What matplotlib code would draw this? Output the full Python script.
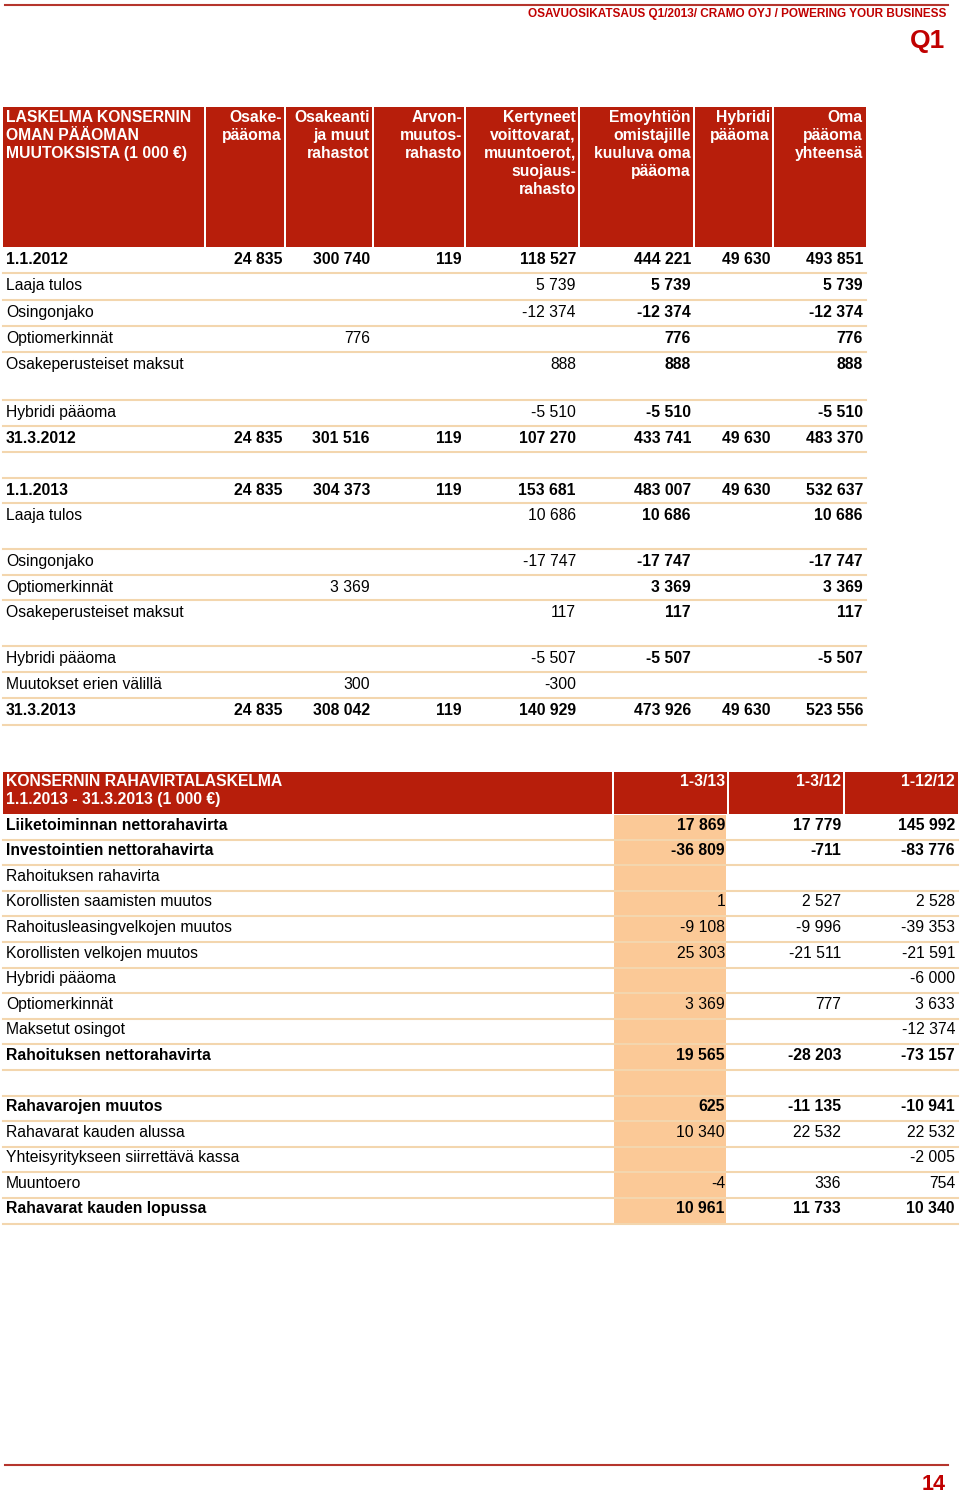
import numpy as np
import matplotlib
matplotlib.use('Agg')
import matplotlib.pyplot as plt
from matplotlib.patches import Rectangle

plt.rcParams['font.family'] = ['Liberation Sans', 'DejaVu Sans']

RED = '#b71e0b'
TAN = '#f3d6ae'
PEACH = '#fbc997'
TITLE_RED = '#c00000'
LINE_RED = '#b5352d'

page_title = 'OSAVUOSIKATSAUS Q1/2013/ CRAMO OYJ / POWERING YOUR BUSINESS'
quarter = 'Q1'
page_no = '14'

# --- equity statement data ---
eq_title = ['LASKELMA KONSERNIN', 'OMAN PÄÄOMAN', 'MUUTOKSISTA (1 000 €)']
eq_columns = [['Osake-', 'pääoma'],
              ['Osakeanti', 'ja muut', 'rahastot'],
              ['Arvon-', 'muutos-', 'rahasto'],
              ['Kertyneet', 'voittovarat,', 'muuntoerot,', 'suojaus-', 'rahasto'],
              ['Emoyhtiön', 'omistajille', 'kuuluva oma', 'pääoma'],
              ['Hybridi', 'pääoma'],
              ['Oma', 'pääoma', 'yhteensä']]
eq_labels = ['1.1.2012', 'Laaja tulos', 'Osingonjako', 'Optiomerkinnät',
             'Osakeperusteiset maksut', 'Hybridi pääoma', '31.3.2012', '',
             '1.1.2013', 'Laaja tulos', 'Osingonjako', 'Optiomerkinnät',
             'Osakeperusteiset maksut', 'Hybridi pääoma', 'Muutokset erien välillä',
             '31.3.2013']
eq_values = [
    [24835, 300740, 119, 118527, 444221, 49630, 493851],
    [None, None, None, 5739, 5739, None, 5739],
    [None, None, None, -12374, -12374, None, -12374],
    [None, 776, None, None, 776, None, 776],
    [None, None, None, 888, 888, None, 888],
    [None, None, None, -5510, -5510, None, -5510],
    [24835, 301516, 119, 107270, 433741, 49630, 483370],
    [None] * 7,
    [24835, 304373, 119, 153681, 483007, 49630, 532637],
    [None, None, None, 10686, 10686, None, 10686],
    [None, None, None, -17747, -17747, None, -17747],
    [None, 3369, None, None, 3369, None, 3369],
    [None, None, None, 117, 117, None, 117],
    [None, None, None, -5507, -5507, None, -5507],
    [None, 300, None, -300, None, None, None],
    [24835, 308042, 119, 140929, 473926, 49630, 523556],
]
eq_bold_rows = [True, False, False, False, False, False, True, False,
                True, False, False, False, False, False, False, True]

# --- cash flow data ---
cf_title = ['KONSERNIN RAHAVIRTALASKELMA', '1.1.2013 - 31.3.2013 (1 000 €)']
cf_columns = ['1-3/13', '1-3/12', '1-12/12']
cf_labels = ['Liiketoiminnan nettorahavirta', 'Investointien nettorahavirta',
             'Rahoituksen rahavirta', 'Korollisten saamisten muutos',
             'Rahoitusleasingvelkojen muutos', 'Korollisten velkojen muutos',
             'Hybridi pääoma', 'Optiomerkinnät', 'Maksetut osingot',
             'Rahoituksen nettorahavirta', '', 'Rahavarojen muutos',
             'Rahavarat kauden alussa', 'Yhteisyritykseen siirrettävä kassa',
             'Muuntoero', 'Rahavarat kauden lopussa']
cf_q1_13 = [17869, -36809, None, 1, -9108, 25303, None, 3369, None, 19565,
            None, 625, 10340, None, -4, 10961]
cf_q1_12 = [17779, -711, None, 2527, -9996, -21511, None, 777, None, -28203,
            None, -11135, 22532, None, 336, 11733]
cf_fy_12 = [145992, -83776, None, 2528, -39353, -21591, -6000, 3633, -12374,
            -73157, None, -10941, 22532, -2005, 754, 10340]
cf_bold_rows = [True, True, False, False, False, False, False, False, False,
                True, False, True, False, False, False, True]


def fmt(v):
    if v is None:
        return ''
    return '{:,}'.format(v).replace(',', ' ')


fig = plt.figure(figsize=(9.6, 14.99), dpi=100)
ax = fig.add_axes([0, 0, 1, 1])
ax.set_xlim(0, 960)
ax.set_ylim(1499, 0)
ax.axis('off')

fs = 11.3

# page header / footer
ax.plot([5, 948], [5, 5], color=LINE_RED, lw=1.5)
ax.text(946, 13.5, page_title, ha='right', va='center', fontsize=8.5,
        fontweight='bold', color=TITLE_RED)
ax.text(945, 41, quarter, ha='right', va='center', fontsize=19,
        fontweight='bold', color=TITLE_RED)
ax.plot([5, 948], [1465, 1465], color=LINE_RED, lw=1.5)
ax.text(946, 1485, page_no, ha='right', va='center', fontsize=15.5,
        fontweight='bold', color=TITLE_RED)

# ---------------- equity table ----------------
eq_edges = [3, 205, 285, 373, 465, 579, 694, 773, 866]
eq_head_top, eq_head_bot = 107, 247
eq_row_h = [26, 27, 26, 26, 48, 26, 26, 26, 25, 46, 26, 25, 46, 26, 26, 27]

for c in range(len(eq_edges) - 1):
    x0 = eq_edges[c] + (1 if c > 0 else 0)
    x1 = eq_edges[c + 1] - (1 if c < len(eq_edges) - 2 else 0)
    ax.add_patch(Rectangle((x0, eq_head_top), x1 - x0, eq_head_bot - eq_head_top,
                           color=RED, lw=0))

for i, line in enumerate(eq_title):
    ax.text(6, 117 + 18 * i, line, ha='left', va='center', fontsize=fs,
            fontweight='bold', color='white')
for c, col in enumerate(eq_columns):
    for i, line in enumerate(col):
        ax.text(eq_edges[c + 2] - 3, 117 + 18 * i, line, ha='right', va='center',
                fontsize=fs, fontweight='bold', color='white')

top = eq_head_bot
for r, label in enumerate(eq_labels):
    h = eq_row_h[r]
    ty = top + 12.5
    bold_row = eq_bold_rows[r]
    ax.text(6, ty, label, ha='left', va='center', fontsize=fs,
            fontweight='bold' if bold_row else 'normal')
    for c, v in enumerate(eq_values[r]):
        w = 'bold' if (bold_row or c >= 4) else 'normal'
        ax.text(eq_edges[c + 2] - 3, ty, fmt(v), ha='right', va='center',
                fontsize=fs, fontweight=w)
    top += h
    ax.plot([3, 866], [top, top], color=TAN, lw=1.5, zorder=1)

# ---------------- cash flow table ----------------
cf_edges = [3, 613, 728, 844, 958]
cf_head_top, cf_head_bot = 772, 814
cf_row_h = 25.6

for c in range(len(cf_edges) - 1):
    x0 = cf_edges[c] + (1 if c > 0 else 0)
    x1 = cf_edges[c + 1] - (1 if c < len(cf_edges) - 2 else 0)
    ax.add_patch(Rectangle((x0, cf_head_top), x1 - x0, cf_head_bot - cf_head_top,
                           color=RED, lw=0))
for i, line in enumerate(cf_title):
    ax.text(6, 781 + 18 * i, line, ha='left', va='center', fontsize=fs,
            fontweight='bold', color='white')
for c, name in enumerate(cf_columns):
    ax.text(cf_edges[c + 2] - 3, 781, name, ha='right', va='center',
            fontsize=fs, fontweight='bold', color='white')

cf_cols = [cf_q1_13, cf_q1_12, cf_fy_12]
top = cf_head_bot
for r, label in enumerate(cf_labels):
    ty = top + 11
    w = 'bold' if cf_bold_rows[r] else 'normal'
    ax.add_patch(Rectangle((614, top + 1), 112, cf_row_h - 2, color=PEACH,
                           lw=0, zorder=2))
    ax.text(6, ty, label, ha='left', va='center', fontsize=fs, fontweight=w,
            zorder=3)
    for c, col in enumerate(cf_cols):
        ax.text(cf_edges[c + 2] - 3, ty, fmt(col[r]), ha='right', va='center',
                fontsize=fs, fontweight=w, zorder=3)
    top += cf_row_h
    ax.plot([3, 958], [top, top], color=TAN, lw=1.5, zorder=1)

fig.savefig('out.png', dpi=100)
